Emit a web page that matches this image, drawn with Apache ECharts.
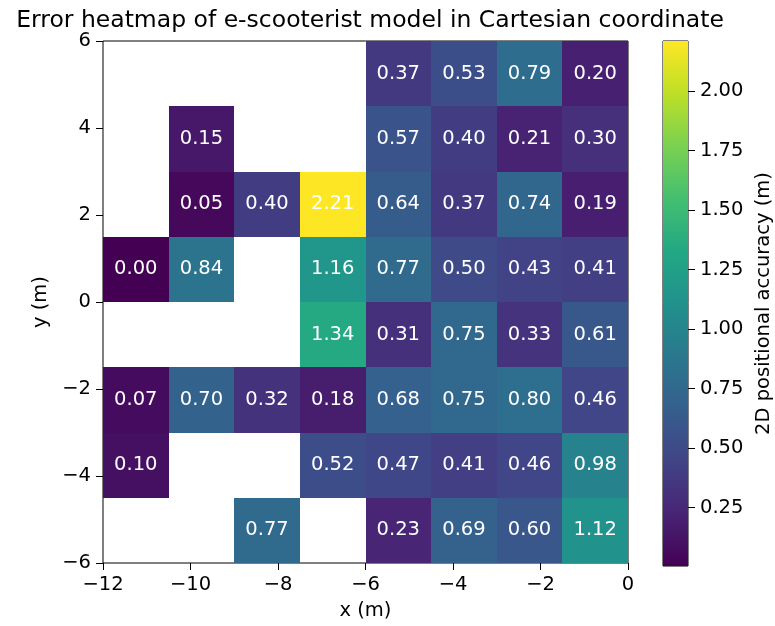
<!DOCTYPE html>
<html>
<head>
<meta charset="utf-8">
<script src="https://cdn.jsdelivr.net/npm/echarts@6/dist/echarts.min.js"></script>
<style>html,body{margin:0;padding:0;background:#fff}#c{width:775px;height:626px}</style>
</head>
<body>
<div id="c"></div>
<script>
// Cell centres (m)
const xCenters = [-11.25, -9.75, -8.25, -6.75, -5.25, -3.75, -2.25, -0.75];
const yCenters = [5.25, 3.75, 2.25, 0.75, -0.75, -2.25, -3.75, -5.25];
// Error values per row (top to bottom), null = empty cell
const row5_25  = [null, null, null, null, 0.37, 0.53, 0.79, 0.20];
const row3_75  = [null, 0.15, null, null, 0.57, 0.40, 0.21, 0.30];
const row2_25  = [null, 0.05, 0.40, 2.21, 0.64, 0.37, 0.74, 0.19];
const row0_75  = [0.00, 0.84, null, 1.16, 0.77, 0.50, 0.43, 0.41];
const rowM0_75 = [null, null, null, 1.34, 0.31, 0.75, 0.33, 0.61];
const rowM2_25 = [0.07, 0.70, 0.32, 0.18, 0.68, 0.75, 0.80, 0.46];
const rowM3_75 = [0.10, null, null, 0.52, 0.47, 0.41, 0.46, 0.98];
const rowM5_25 = [null, null, 0.77, null, 0.23, 0.69, 0.60, 1.12];
const rows = [row5_25, row3_75, row2_25, row0_75, rowM0_75, rowM2_25, rowM3_75, rowM5_25];
const cellSize = 1.5;
const xTicks = [-12, -10, -8, -6, -4, -2, 0];
const yTicks = [-6, -4, -2, 0, 2, 4, 6];
const cbTicks = [0.25, 0.50, 0.75, 1.00, 1.25, 1.50, 1.75, 2.00];
const vMin = 0.005, vMax = 2.21;
const viridis = ['#440154','#482475','#414487','#355f8d','#2a788e','#21918c','#22a884','#44bf70','#7ad151','#bddf26','#fde725'];

const data = [];
rows.forEach((r, i) => r.forEach((v, j) => { if (v !== null) data.push([xCenters[j], yCenters[i], v]); }));

const FONT = 'DejaVu Sans';
const FS = 19.5;
const minus = v => String(v).replace('-', '\u2212');
const tick = {show: true, inside: false, length: 7, lineStyle: {color: '#000', width: 1}};
const chart = echarts.init(document.getElementById('c'), null, {renderer: 'canvas'});
chart.setOption({
  animation: false,
  backgroundColor: '#fff',
  textStyle: {fontFamily: FONT},
  title: {
    text: 'Error heatmap of e-scooterist model in Cartesian coordinate',
    left: 365, top: 4, textAlign: 'center',
    textStyle: {fontFamily: FONT, fontSize: 23.5, fontWeight: 'normal', color: '#000'}
  },
  grid: [
    {left: 103, top: 41, width: 525, height: 525, show: true, borderColor: '#000', borderWidth: 1, backgroundColor: 'transparent'},
    {left: 663, top: 41, width: 26, height: 525, show: true, borderColor: '#000', borderWidth: 1, backgroundColor: 'transparent'}
  ],
  visualMap: {
    show: false, type: 'continuous', min: vMin, max: vMax, dimension: 2, seriesIndex: 0,
    inRange: {color: viridis}
  },
  xAxis: [
    {type: 'value', gridIndex: 0, min: -12, max: 0, interval: 2,
     name: 'x (m)', nameLocation: 'middle', nameGap: 38,
     nameTextStyle: {fontFamily: FONT, fontSize: FS, color: '#000'},
     axisLine: {show: false, onZero: false}, splitLine: {show: false},
     axisTick: tick,
     axisLabel: {fontFamily: FONT, fontSize: FS, color: '#000', margin: 12, formatter: minus}},
    {type: 'value', gridIndex: 1, min: 0, max: 1, show: false}
  ],
  yAxis: [
    {type: 'value', gridIndex: 0, min: -6, max: 6, interval: 2,
     name: 'y (m)', nameLocation: 'middle', nameGap: 52, nameRotate: 90,
     nameTextStyle: {fontFamily: FONT, fontSize: FS, color: '#000'},
     axisLine: {show: false, onZero: false}, splitLine: {show: false},
     axisTick: tick,
     axisLabel: {fontFamily: FONT, fontSize: FS, color: '#000', margin: 12, formatter: minus}},
    {type: 'value', gridIndex: 1, min: vMin, max: vMax, position: 'right',
     name: '2D positional accuracy (m)', nameLocation: 'middle', nameGap: 66, nameRotate: 90,
     nameTextStyle: {fontFamily: FONT, fontSize: FS, color: '#000'},
     axisLine: {show: false, onZero: false}, splitLine: {show: false},
     axisTick: Object.assign({customValues: cbTicks}, tick),
     axisLabel: {fontFamily: FONT, fontSize: FS, color: '#000', margin: 12, customValues: cbTicks,
                 formatter: v => v.toFixed(2)}}
  ],
  series: [
    {
      type: 'custom', xAxisIndex: 0, yAxisIndex: 0, data: data,
      encode: {x: 0, y: 1},
      renderItem: (params, api) => {
        const x = api.value(0), y = api.value(1), v = api.value(2);
        const p0 = api.coord([x - cellSize / 2, y + cellSize / 2]).map(Math.round);
        const p1 = api.coord([x + cellSize / 2, y - cellSize / 2]).map(Math.round);
        const c = api.coord([x, y]);
        return {
          type: 'group',
          children: [
            {type: 'rect', shape: {x: p0[0], y: p0[1], width: p1[0] - p0[0], height: p1[1] - p0[1]},
             style: {fill: api.visual('color')}},
            {type: 'text', x: c[0], y: c[1],
             style: {text: v.toFixed(2), fill: '#fff', fontFamily: FONT, fontSize: FS, align: 'center', verticalAlign: 'middle'}}
          ]
        };
      }
    },
    {
      type: 'custom', xAxisIndex: 1, yAxisIndex: 1, data: [[0, vMin, 1, vMax]],
      renderItem: (params, api) => {
        const p0 = api.coord([api.value(0), api.value(3)]);
        const p1 = api.coord([api.value(2), api.value(1)]);
        return {
          type: 'rect', shape: {x: p0[0], y: p0[1], width: p1[0] - p0[0], height: p1[1] - p0[1]},
          style: {fill: new echarts.graphic.LinearGradient(0, 1, 0, 0,
            viridis.map((col, i) => ({offset: i / (viridis.length - 1), color: col})))}
        };
      }
    }
  ]
});
</script>
</body>
</html>
